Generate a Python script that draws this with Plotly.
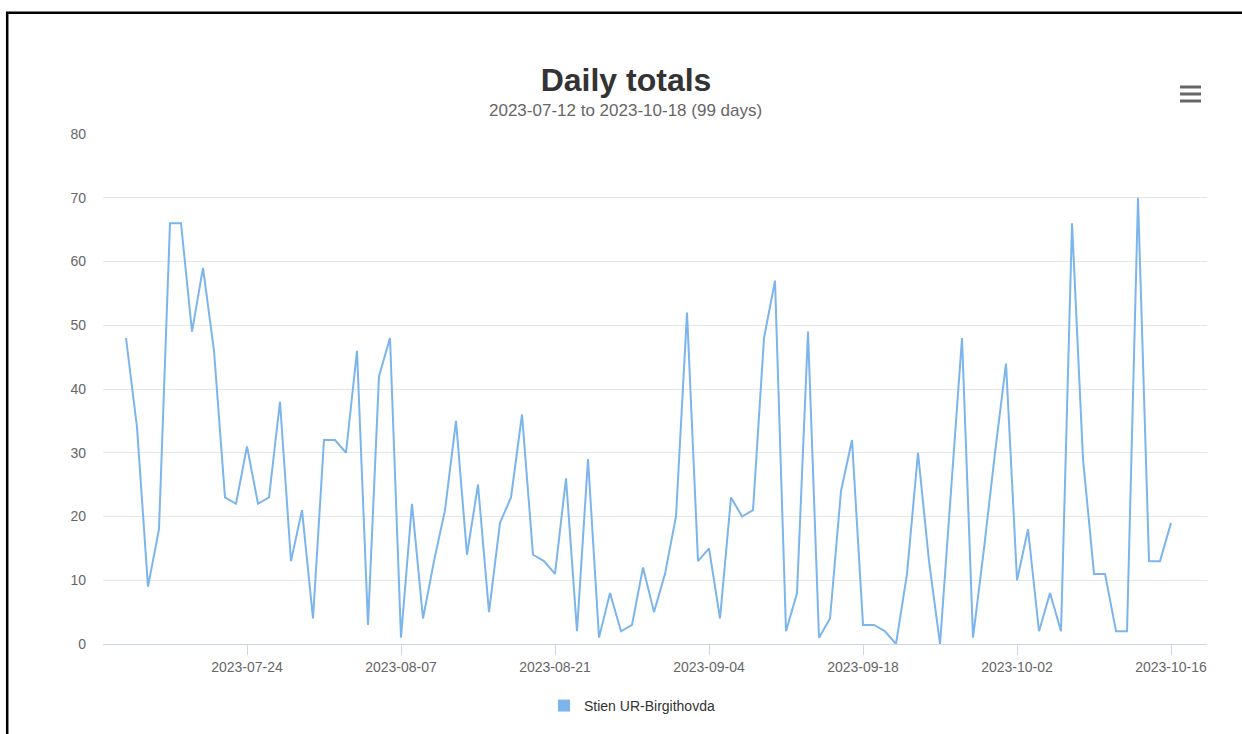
import pandas as pd
import plotly.graph_objects as go

# ---- data ----
series_name = "Stien UR-Birgithovda"
title_text = "Daily totals"
subtitle_text = "2023-07-12 to 2023-10-18 (99 days)"
start_date = "2023-07-13"
daily_totals = [
    48, 34, 9, 18, 66, 66, 49, 59, 46, 23, 22, 31, 22, 23, 38, 13, 21, 4, 32, 32, 30, 46, 3, 42, 48,
    1, 22, 4, 13, 21, 35, 14, 25, 5, 19, 23, 36, 14, 13, 11, 26, 2, 29, 1, 8, 2, 3, 12, 5, 11, 20,
    52, 13, 15, 4, 23, 20, 21, 48, 57, 2, 8, 49, 1, 4, 24, 32, 3, 3, 2, 0, 11, 30, 13, 0,
    24, 48, 1, 15, 30, 44, 10, 18, 2, 8, 2, 66, 29, 11, 11, 2, 2, 70, 13, 13, 19,
]
dates = pd.date_range(start_date, periods=len(daily_totals), freq="D")
x_tick_start = "2023-07-24"
x_range = ["2023-07-10 21:50", "2023-10-19 06:30"]
y_range = [0, 80]

LINE_COLOR = "#7cb5ec"
FONT = "Liberation Sans, Arial, sans-serif"

# plot-area geometry (pixels) used to place decorations in paper coordinates
L, R, T, B = 103, 1207, 134, 644
PW, PH = R - L, B - T


def px(xp):
    return (xp - L) / PW


def py(yp):
    return (B - yp) / PH


fig = go.Figure()
fig.add_trace(go.Scatter(
    x=dates, y=daily_totals, mode="lines", name=series_name,
    line=dict(color=LINE_COLOR, width=2), showlegend=False,
))
# legend entry with a square symbol (Highcharts style)
fig.add_trace(go.Scatter(
    x=[None], y=[None], mode="markers", name=series_name,
    marker=dict(symbol="square", size=12, color=LINE_COLOR), showlegend=True,
))

fig.update_layout(
    width=1242, height=734, autosize=False,
    margin=dict(l=L, r=1242 - R, t=T, b=734 - B),
    paper_bgcolor="white", plot_bgcolor="white",
    font=dict(family=FONT, color="#666666", size=14),
    title=dict(text=title_text, x=626 / 1242, xref="container", xanchor="center",
               y=1 - 80 / 734, yref="container", yanchor="middle",
               font=dict(family=FONT, size=32, color="#333333", weight="bold")),
    showlegend=True,
    legend=dict(orientation="h", x=px(632), xanchor="center", y=py(706), yanchor="middle",
                font=dict(family=FONT, size=14, color="#333333"), itemwidth=30,
                bgcolor="rgba(0,0,0,0)"),
    annotations=[dict(text=subtitle_text, x=px(625), xref="paper", xanchor="center",
                      y=py(111), yref="paper", yanchor="middle", showarrow=False,
                      font=dict(family=FONT, size=17, color="#666666"))],
)
fig.update_xaxes(
    type="date", range=x_range, tick0=x_tick_start, dtick=14 * 86400000,
    tickformat="%Y-%m-%d", showgrid=False, showline=True, linecolor="#ccd6eb", linewidth=1,
    ticks="outside", ticklen=10, tickcolor="#ccd6eb", tickfont=dict(size=14, color="#666666"),
    zeroline=False,
)
fig.update_yaxes(
    range=y_range, dtick=10, showgrid=True, gridcolor="#e6e6e6", gridwidth=1,
    zeroline=False, showline=False, ticks="", ticklabelstandoff=16,
    tickfont=dict(size=14, color="#666666"),
)

# frame border of the screenshot (left and top edges)
fig.add_shape(type="path", xref="paper", yref="paper",
              path=f"M {px(7.2)},{py(760)} L {px(7.2)},{py(12.8)} L {px(1260)},{py(12.8)}",
              line=dict(color="black", width=2.5))
# hamburger menu icon
for yp in (87, 94, 101):
    fig.add_shape(type="line", xref="paper", yref="paper",
                  x0=px(1180), x1=px(1201), y0=py(yp), y1=py(yp),
                  line=dict(color="#666666", width=3))

fig.write_html(
    "out.html",
    config={"displayModeBar": False},
    post_script="document.body.style.margin='0';document.body.style.overflow='hidden';",
)
